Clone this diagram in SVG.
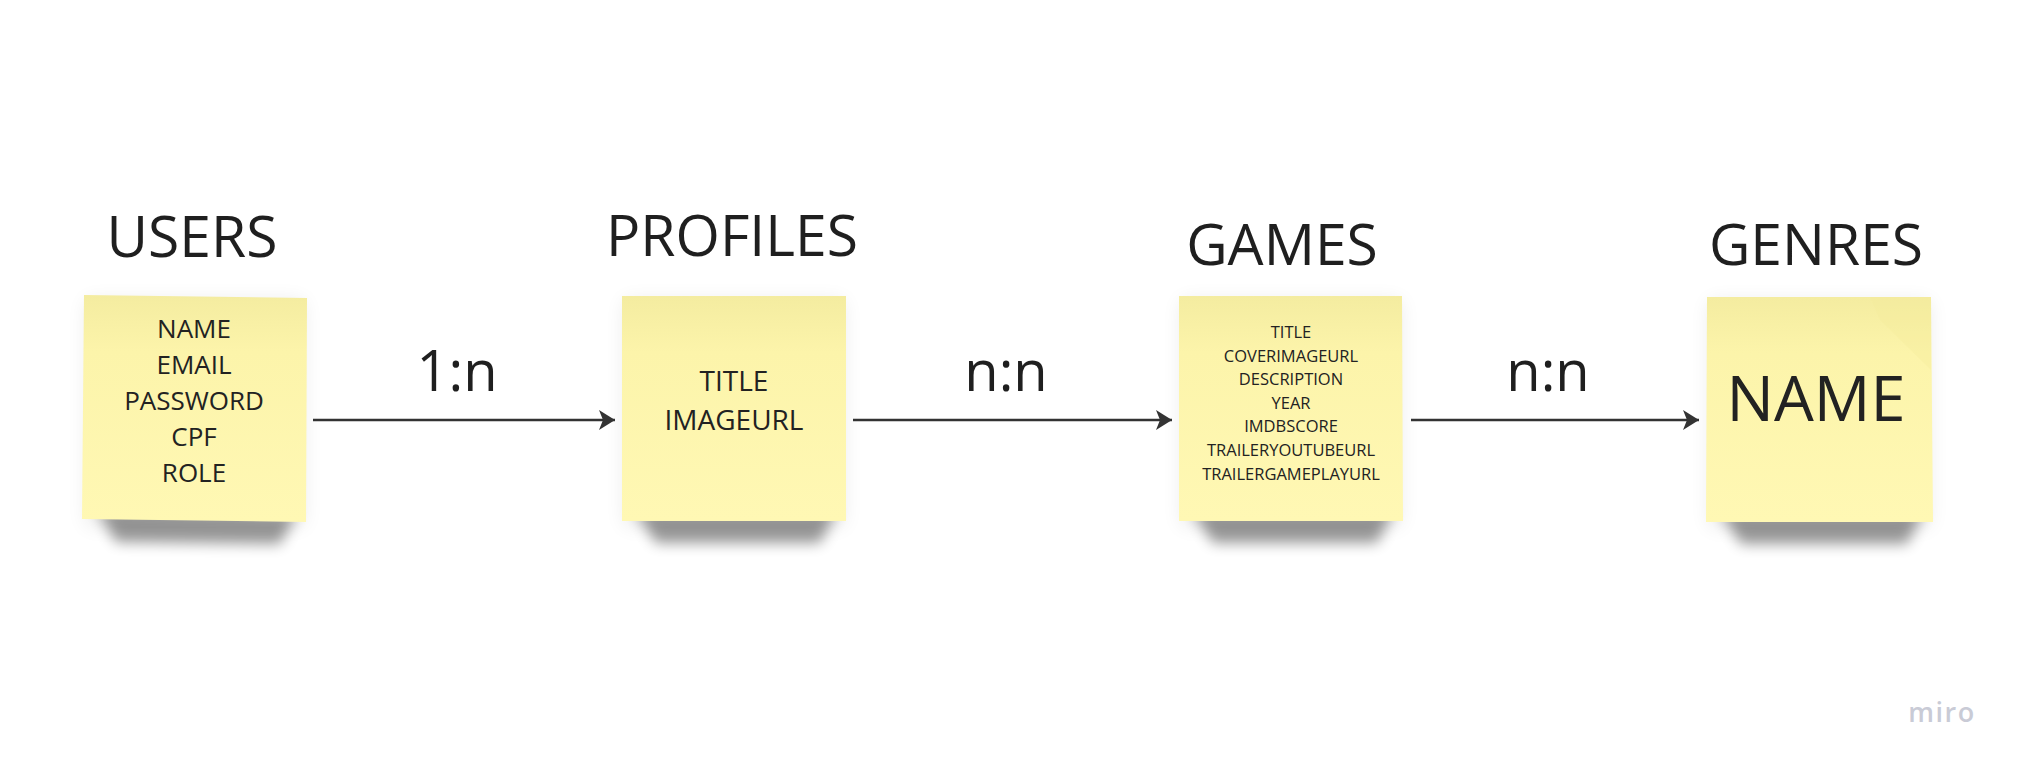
<svg xmlns="http://www.w3.org/2000/svg" width="2024" height="771" viewBox="0 0 2024 771">
  <style>
    .title { font-family: "Open Sans", "Liberation Sans", sans-serif; font-size: 57px; font-weight: 400; fill: #1f1f1f; text-anchor: middle; }
    .field { font-family: "Open Sans", "Liberation Sans", sans-serif; font-weight: 400; fill: #222222; text-anchor: middle; }
    .rel { font-family: "Open Sans", "Liberation Sans", sans-serif; font-size: 56px; font-weight: 400; fill: #1f1f1f; text-anchor: middle; }
    .sticky { fill: url(#stickyFill); }
    .shadow { fill: #000000; opacity: 0.4; filter: url(#blurNear); }
    .shadowFar { fill: #000000; opacity: 0.08; filter: url(#blurFar); }
    .conn { stroke: #333333; stroke-width: 2.6; fill: none; marker-end: url(#arrow); }
  </style>
  <defs>
    <linearGradient id="stickyFill" x1="0" y1="0" x2="0" y2="1">
      <stop offset="0" stop-color="#f4eca0"/>
      <stop offset="0.25" stop-color="#fcf4aa"/>
      <stop offset="1" stop-color="#fff8b4"/>
    </linearGradient>
    <filter id="blurNear" x="-20%" y="-100%" width="140%" height="300%">
      <feGaussianBlur stdDeviation="7"/>
    </filter>
    <filter id="blurFar" x="-30%" y="-30%" width="160%" height="160%">
      <feGaussianBlur stdDeviation="10"/>
    </filter>
    <marker id="arrow" markerUnits="userSpaceOnUse" markerWidth="20" markerHeight="24" refX="17" refY="10" orient="auto" viewBox="0 0 20 20">
      <path d="M1,0 L17,10 L1,20 L5,10 Z" fill="#333333"/>
    </marker>
  </defs>

  <rect x="0" y="0" width="2024" height="771" fill="#ffffff"/>

  <g id="users">
    <text class="title" x="192" y="257">USERS</text>
    <rect class="shadowFar" x="86" y="300" width="218" height="226"/>
    <path class="shadow" d="M98,510 L296,514 L280,544 L116,542 Z"/>
    <path class="sticky" d="M84,295 L307,298 L306,522 L82,519 Z"/>
    <g class="field" font-size="26">
      <text x="194" y="338">NAME</text>
      <text x="194" y="374">EMAIL</text>
      <text x="194" y="410">PASSWORD</text>
      <text x="194" y="446">CPF</text>
      <text x="194" y="482">ROLE</text>
    </g>
  </g>

  <g id="profiles">
    <text class="title" x="732" y="256">PROFILES</text>
    <rect class="shadowFar" x="624" y="300" width="220" height="226"/>
    <path class="shadow" d="M636,511 L836,511 L820,543 L656,543 Z"/>
    <path class="sticky" d="M622,296 L846,296 L846,521 L622,521 Z"/>
    <g class="field" font-size="28">
      <text x="734" y="391">TITLE</text>
      <text x="734" y="430">IMAGEURL</text>
    </g>
  </g>

  <g id="games">
    <text class="title" x="1282" y="265">GAMES</text>
    <rect class="shadowFar" x="1181" y="300" width="220" height="226"/>
    <path class="shadow" d="M1193,511 L1393,511 L1377,543 L1213,543 Z"/>
    <path class="sticky" d="M1179,296 L1402,296 L1403,521 L1179,521 Z"/>
    <g class="field" font-size="16.5">
      <text x="1291" y="338">TITLE</text>
      <text x="1291" y="361.6">COVERIMAGEURL</text>
      <text x="1291" y="385.2">DESCRIPTION</text>
      <text x="1291" y="408.8">YEAR</text>
      <text x="1291" y="432.4">IMDBSCORE</text>
      <text x="1291" y="456">TRAILERYOUTUBEURL</text>
      <text x="1291" y="479.6">TRAILERGAMEPLAYURL</text>
    </g>
  </g>

  <g id="genres">
    <text class="title" x="1816" y="265">GENRES</text>
    <rect class="shadowFar" x="1709" y="301" width="221" height="226"/>
    <path class="shadow" d="M1721,512 L1923,512 L1907,544 L1741,544 Z"/>
    <path class="sticky" d="M1707,297 L1931,297 L1933,522 L1706,522 Z"/>
    <path d="M1931,297 L1931,370 L1880,320 L1870,297 Z" fill="#f3ea9c" opacity="0.35"/>
    <text class="field" font-size="63" x="1816" y="421">NAME</text>
  </g>

  <g id="connectors">
    <line class="conn" x1="313" y1="420" x2="615" y2="420"/>
    <line class="conn" x1="853" y1="420" x2="1172" y2="420"/>
    <line class="conn" x1="1411" y1="420" x2="1699" y2="420"/>
    <text class="rel" x="457" y="391">1:n</text>
    <text class="rel" x="1006" y="391">n:n</text>
    <text class="rel" x="1548" y="391">n:n</text>
  </g>

  <text x="1942" y="722" font-family="'Open Sans', 'Liberation Sans', sans-serif" font-size="27" font-weight="600" letter-spacing="1.5" fill="#c9cbd6" text-anchor="middle">miro</text>
</svg>
